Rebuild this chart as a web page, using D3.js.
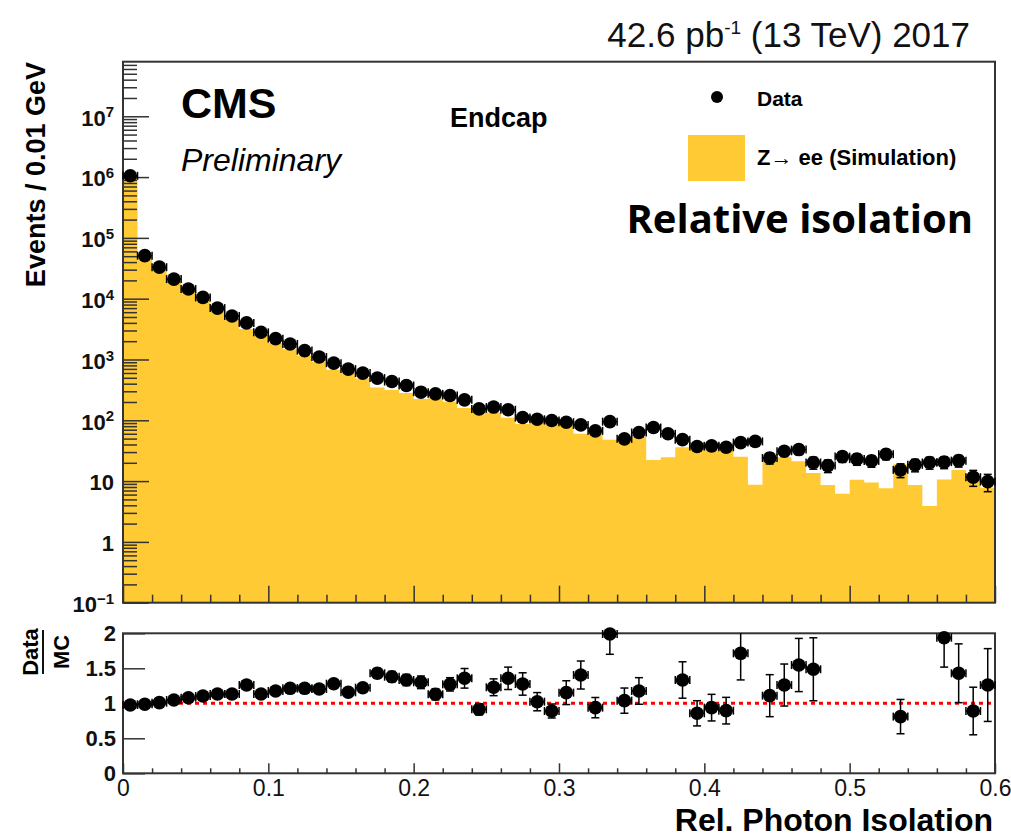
<!DOCTYPE html>
<html>
<head>
<meta charset="utf-8">
<script src="https://cdn.jsdelivr.net/npm/d3@7"></script>
<style>
  body { margin: 0; background: #fff; }
  svg { display: block; font-family: "Liberation Sans", Arial, sans-serif; }
</style>
</head>
<body>
<div id="chart"></div>
<script>
// bin edges of the histogram, 0 to 0.6 in steps of 0.01
var binEdges = d3.range(61).map(i => i / 100)

// data counts per bin
var dataVals = [1.05e6, 5.1e4, 3.3e4, 2.1e4, 1.44e4, 1.05e4, 7000, 5200, 4000, 2800,
    2200, 1800, 1400, 1100, 870, 695, 597, 494, 434, 373,
    290, 272, 256, 217, 154, 165, 149, 111, 104, 99,
    93, 84, 67, 95, 49.5, 63, 76, 60, 48, 37,
    38, 36, 43, 45, 24, 31, 33, 20.2, 18, 25.3,
    23, 21.5, 27.7, 15.3, 18.5, 20.2, 20.5, 21.7, 11.6, 9.8]
var dataErr = [1025, 226, 182, 145, 120, 102, 84, 72, 63, 53,
    47, 42, 37, 33, 29, 26, 24, 22, 21, 19,
    17, 16.5, 16, 15, 12.4, 12.8, 12.2, 10.5, 10.2, 10,
    9.6, 9.2, 8.2, 9.7, 7, 7.9, 8.7, 7.7, 6.9, 6.1,
    6.2, 6, 6.6, 6.7, 4.9, 5.6, 5.7, 4.5, 4.2, 5,
    4.8, 4.6, 5.3, 3.9, 4.3, 4.5, 4.5, 4.7, 3.4, 3.1]

// Z->ee simulation per bin
var mcVals = [1.076e6, 5.17e4, 3.27e4, 2.0e4, 1.33e4, 9500, 6180, 4590, 3170, 2470,
    1870, 1480, 1150, 914, 680, 600, 488, 346, 314, 280,
    223, 241, 201, 160, 168, 134, 110, 87, 102, 111,
    81, 60, 71, 48, 47.7, 53.6, 22.3, 24.7, 36, 43.2,
    40.5, 40.2, 25.1, 8.7, 21.6, 24.6, 21.3, 13.6, 8.65, 6.2,
    10.5, 9.45, 7.6, 18.9, 8.65, 3.9, 10.6, 15.2, 13.0, 7.8]

// Data / MC (null = off scale)
var ratioVals = [0.976, 0.986, 1.009, 1.047, 1.08, 1.104, 1.133, 1.133, 1.261, 1.133,
    1.176, 1.214, 1.214, 1.204, 1.28, 1.157, 1.223, 1.429, 1.38, 1.333,
    1.3, 1.129, 1.271, 1.357, 0.914, 1.229, 1.357, 1.276, 1.023, 0.89,
    1.152, 1.404, 0.938, 1.99, 1.038, 1.176, null, null, 1.333, 0.857,
    0.938, 0.895, 1.714, null, 1.109, 1.261, 1.547, 1.486, null, null,
    null, null, null, 0.81, null, null, 1.937, 1.429, 0.89, 1.261]
var ratioErr = [0.002, 0.006, 0.008, 0.01, 0.012, 0.015, 0.018, 0.02, 0.025, 0.027,
    0.03, 0.035, 0.04, 0.045, 0.05, 0.055, 0.06, 0.07, 0.075, 0.08,
    0.09, 0.08, 0.095, 0.14, 0.08, 0.12, 0.16, 0.16, 0.13, 0.1,
    0.17, 0.2, 0.145, 0.29, 0.18, 0.19, 0, 0, 0.26, 0.18,
    0.19, 0.19, 0.38, 0, 0.3, 0.3, 0.38, 0.45, 0, 0,
    0, 0, 0, 0.245, 0, 0, 0.42, 0.42, 0.34, 0.52]

var xTicks = [0, 0.1, 0.2, 0.3, 0.4, 0.5, 0.6]
var yDecades = [0.1, 1, 10, 100, 1e3, 1e4, 1e5, 1e6, 1e7]
var ratioTicks = [0, 0.5, 1, 1.5, 2]

var yellow = "#ffca33"
var frameCol = "#333"

var svg = d3.select("#chart").append("svg")
    .attr("width", 1011)
    .attr("height", 838)

svg.append("rect").attr("width", 1011).attr("height", 838).attr("fill", "#fff")

var x = d3.scaleLinear().domain([0, 0.6]).range([123, 995])
var y = d3.scaleLog().domain([0.1, 7.9e7]).range([602.7, 61.7])
var yr = d3.scaleLinear().domain([0, 2]).range([773.3, 633.3])

var bins = mcVals.map((v, i) => ({
    lo: binEdges[i], hi: binEdges[i + 1], c: (binEdges[i] + binEdges[i + 1]) / 2,
    mc: v, d: dataVals[i], de: dataErr[i], r: ratioVals[i], re: ratioErr[i]
}))

// ---------- top panel ----------
var areaPts = []
bins.forEach(b => { areaPts.push([b.lo, b.mc]); areaPts.push([b.hi, b.mc]) })
svg.append("path")
    .datum(areaPts)
    .attr("fill", yellow)
    .attr("d", d3.area().x(d => x(d[0])).y0(y(0.1)).y1(d => y(d[1])))

// y axis (log) major + minor ticks inside the frame
var yMinor = []
yDecades.forEach(d => { for (var k = 2; k <= 9; k++) if (d * k < 7.9e7) yMinor.push(d * k) })

svg.append("g")
    .attr("transform", "translate(123,0)")
    .call(d3.axisLeft(y).tickValues(yMinor).tickSize(-14).tickFormat(""))
    .call(g => g.select(".domain").remove())
    .call(g => g.selectAll("line").attr("stroke", frameCol).attr("stroke-width", 1.5))

var yAx = svg.append("g")
    .attr("transform", "translate(123,0)")
    .call(d3.axisLeft(y).tickValues(yDecades).tickSize(-26).tickPadding(9).tickFormat(""))
    .call(g => g.select(".domain").remove())
    .call(g => g.selectAll("line").attr("stroke", frameCol).attr("stroke-width", 1.5))

yAx.selectAll(".tick text").each(function (d) {
    var t = d3.select(this)
        .attr("fill", "#111")
        .attr("font-size", 22)
        .attr("font-weight", "bold")
        .attr("dy", "0.4em")
    if (d === 1) t.text("1")
    else if (d === 10) t.text("10")
    else {
        var p = Math.round(Math.log10(d))
        t.append("tspan").text("10")
        t.append("tspan").attr("dy", "-0.55em").attr("font-size", 15).text(p < 0 ? "\u2212" + (-p) : p)
    }
})

// x axis ticks of top panel (no labels)
var xMinor = d3.range(31).map(i => i / 50).filter(v => Math.abs(v * 10 - Math.round(v * 10)) > 1e-6)
svg.append("g")
    .attr("transform", "translate(0,602.7)")
    .call(d3.axisBottom(x).tickValues(xMinor).tickSize(-8).tickFormat(""))
    .call(g => g.select(".domain").remove())
    .call(g => g.selectAll("line").attr("stroke", frameCol).attr("stroke-width", 1.5))
svg.append("g")
    .attr("transform", "translate(0,602.7)")
    .call(d3.axisBottom(x).tickValues(xTicks).tickSize(-17).tickFormat(""))
    .call(g => g.select(".domain").remove())
    .call(g => g.selectAll("line").attr("stroke", frameCol).attr("stroke-width", 1.5))

// frame
svg.append("rect")
    .attr("x", 123).attr("y", 61.7)
    .attr("width", 872).attr("height", 541)
    .attr("fill", "none").attr("stroke", frameCol).attr("stroke-width", 2)

// data points
function drawPoints(g, pts, xs, ys, yv, ev, lo, hi) {
    var p = g.selectAll("g.pt").data(pts).enter().append("g").attr("class", "pt")
    // horizontal bar with end caps
    p.append("line")
        .attr("x1", d => xs(d.lo)).attr("x2", d => xs(d.hi))
        .attr("y1", d => ys(yv(d))).attr("y2", d => ys(yv(d)))
        .attr("stroke", "#000").attr("stroke-width", 1.5)
    p.append("line").attr("x1", d => xs(d.lo)).attr("x2", d => xs(d.lo))
        .attr("y1", d => ys(yv(d)) - 4).attr("y2", d => ys(yv(d)) + 4)
        .attr("stroke", "#000").attr("stroke-width", 1.5)
    p.append("line").attr("x1", d => xs(d.hi)).attr("x2", d => xs(d.hi))
        .attr("y1", d => ys(yv(d)) - 4).attr("y2", d => ys(yv(d)) + 4)
        .attr("stroke", "#000").attr("stroke-width", 1.5)
    // vertical bar with caps
    var top = d => ys(Math.min(hi, yv(d) + ev(d)))
    var bot = d => ys(Math.max(lo, yv(d) - ev(d)))
    p.append("line")
        .attr("x1", d => xs(d.c)).attr("x2", d => xs(d.c))
        .attr("y1", top).attr("y2", bot)
        .attr("stroke", "#000").attr("stroke-width", 1.5)
    p.filter(d => yv(d) + ev(d) < hi).append("line")
        .attr("x1", d => xs(d.c) - 4).attr("x2", d => xs(d.c) + 4)
        .attr("y1", top).attr("y2", top)
        .attr("stroke", "#000").attr("stroke-width", 1.5)
    p.append("line")
        .attr("x1", d => xs(d.c) - 4).attr("x2", d => xs(d.c) + 4)
        .attr("y1", bot).attr("y2", bot)
        .attr("stroke", "#000").attr("stroke-width", 1.5)
    p.append("circle")
        .attr("cx", d => xs(d.c)).attr("cy", d => ys(yv(d)))
        .attr("r", 6.8).attr("fill", "#000")
}

drawPoints(svg.append("g"), bins, x, y, d => d.d, d => d.de, 0.1, 7.9e7)

// texts top panel
svg.append("text").attr("x", 181).attr("y", 118)
    .attr("font-size", 43).attr("font-weight", "bold").text("CMS")
svg.append("text").attr("x", 181).attr("y", 171)
    .attr("font-size", 32).attr("font-style", "italic").text("Preliminary")
svg.append("text").attr("x", 450).attr("y", 127)
    .attr("font-size", 27).attr("font-weight", "bold").text("Endcap")

var lumi = svg.append("text").attr("x", 970).attr("y", 47)
    .attr("text-anchor", "end").attr("font-size", 35).attr("fill", "#111")
lumi.append("tspan").text("42.6 pb")
lumi.append("tspan").attr("dy", -13).attr("font-size", 19).text("-1")
lumi.append("tspan").attr("dy", 13).text(" (13 TeV) 2017")

// legend
svg.append("circle").attr("cx", 717).attr("cy", 97).attr("r", 6).attr("fill", "#000")
svg.append("text").attr("x", 757).attr("y", 106)
    .attr("font-size", 21).attr("font-weight", "bold").text("Data")
svg.append("rect").attr("x", 688).attr("y", 135).attr("width", 57).attr("height", 46).attr("fill", yellow)
svg.append("text").attr("x", 757).attr("y", 165)
    .attr("font-size", 22).attr("font-weight", "bold").text("Z\u2192 ee (Simulation)")

svg.append("text").attr("x", 973).attr("y", 233)
    .attr("text-anchor", "end")
    .style("font-family", "'Open Sans', sans-serif")
    .attr("font-size", 40).attr("font-weight", 700).text("Relative isolation")

svg.append("text")
    .attr("transform", "translate(45,62) rotate(-90)")
    .attr("text-anchor", "end")
    .attr("font-size", 27).attr("font-weight", "bold").text("Events / 0.01 GeV")

// ---------- ratio panel ----------
svg.append("line")
    .attr("x1", x(0)).attr("x2", x(0.6))
    .attr("y1", yr(1)).attr("y2", yr(1))
    .attr("stroke", "#ff0000").attr("stroke-width", 3)
    .attr("stroke-dasharray", "4,4")

svg.append("g")
    .attr("transform", "translate(123,0)")
    .call(d3.axisLeft(yr).tickValues(ratioTicks).tickSize(-22).tickPadding(7)
        .tickFormat(d => d === 0 ? "0" : d === 1 ? "1" : d === 2 ? "2" : d3.format(".1f")(d)))
    .call(g => g.select(".domain").remove())
    .call(g => g.selectAll("line").attr("stroke", frameCol).attr("stroke-width", 1.5))
    .call(g => g.selectAll("text").attr("font-size", 22).attr("font-weight", "bold")
        .attr("fill", "#111").attr("font-family", "'Liberation Sans', Arial, sans-serif"))

svg.append("g")
    .attr("transform", "translate(0,773.3)")
    .call(d3.axisBottom(x).tickValues(xMinor).tickSize(-5).tickFormat(""))
    .call(g => g.select(".domain").remove())
    .call(g => g.selectAll("line").attr("stroke", frameCol).attr("stroke-width", 1.5))
svg.append("g")
    .attr("transform", "translate(0,773.3)")
    .call(d3.axisBottom(x).tickValues(xTicks).tickSize(-10).tickPadding(6)
        .tickFormat(d => d === 0 ? "0" : d3.format(".1f")(d)))
    .call(g => g.select(".domain").remove())
    .call(g => g.selectAll("line").attr("stroke", frameCol).attr("stroke-width", 1.5))
    .call(g => g.selectAll("text").attr("font-size", 23).attr("fill", "#111")
        .attr("font-family", "'Liberation Sans', Arial, sans-serif"))

svg.append("rect")
    .attr("x", 123).attr("y", 633.3)
    .attr("width", 872).attr("height", 140)
    .attr("fill", "none").attr("stroke", frameCol).attr("stroke-width", 2)

drawPoints(svg.append("g"), bins.filter(b => b.r !== null), x, yr, d => d.r, d => d.re, 0, 2)

// Data / MC label
svg.append("text").attr("transform", "translate(38,652) rotate(-90)")
    .attr("text-anchor", "middle").attr("font-size", 22).attr("font-weight", "bold").text("Data")
svg.append("line").attr("x1", 43).attr("x2", 43).attr("y1", 630).attr("y2", 674)
    .attr("stroke", "#111").attr("stroke-width", 2)
svg.append("text").attr("transform", "translate(69,652) rotate(-90)")
    .attr("text-anchor", "middle").attr("font-size", 22).attr("font-weight", "bold").text("MC")

svg.append("text").attr("x", 993).attr("y", 831)
    .attr("text-anchor", "end")
    .attr("font-size", 32).attr("font-weight", "bold").text("Rel. Photon Isolation")
</script>
</body>
</html>
